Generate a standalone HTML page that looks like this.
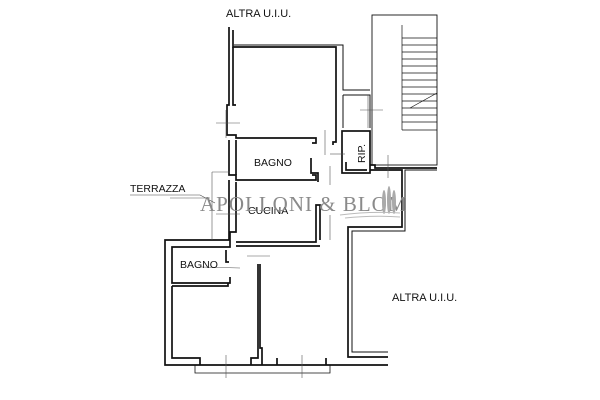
<!DOCTYPE html>
<html><head><meta charset="utf-8"><style>
html,body{margin:0;padding:0;background:#fff}
svg{display:block}
text{font-family:"Liberation Sans",sans-serif;fill:#111}
</style></head><body>
<svg width="600" height="400" viewBox="0 0 600 400" xmlns="http://www.w3.org/2000/svg">
<g fill="none" stroke="#111" stroke-width="1.7">
<!-- upper unit -->
<polyline points="229,27 229,105 227,105 227,135 236,135 236,138 316,138 316,143 312,143"/>
<polyline points="233,30 233,47 336,47 336,142 333,142 333,145"/>
<polyline points="233,47 233,105 236,105"/>
<polyline points="234,45 343,45 343,90 370,90" stroke-width="1"/>
<polyline points="343,95 370,95 370,128" stroke-width="1"/>
<polyline points="343,95 343,128" stroke-width="1"/>
<rect x="342" y="131" width="28" height="42"/>
<polyline points="346,162 346,170 367,170"/>
<polyline points="370,165 375,165 375,168 437,168"/>
<polyline points="370,170 402,170 402,227 348,227 348,357 388,357"/>
<polyline points="437,170 405,170 405,231 352,231 352,352 388,352" stroke-width="1"/>
<!-- stair -->
<rect x="372" y="15" width="65" height="150" stroke-width="0.9"/>
<g stroke-width="0.7">
<line x1="402" y1="25" x2="402" y2="130"/><line x1="402" y1="130" x2="437" y2="130"/>
<line x1="402" y1="38" x2="437" y2="38"/><line x1="402" y1="45" x2="437" y2="45"/>
<line x1="402" y1="52" x2="437" y2="52"/><line x1="402" y1="59" x2="437" y2="59"/>
<line x1="402" y1="66" x2="437" y2="66"/><line x1="402" y1="73" x2="437" y2="73"/>
<line x1="402" y1="80" x2="437" y2="80"/><line x1="402" y1="87" x2="437" y2="87"/>
<line x1="402" y1="94" x2="437" y2="94"/><line x1="402" y1="101" x2="437" y2="101"/>
<line x1="402" y1="108" x2="437" y2="108"/><line x1="402" y1="115" x2="437" y2="115"/>
<line x1="402" y1="122" x2="437" y2="122"/>
<line x1="410" y1="108" x2="437" y2="93"/>
</g>
<!-- bagno upper -->
<polyline points="229,140 229,175 236,175 236,180 316,180 316,175 312,175"/>
<polyline points="236,140 236,175"/>
<polyline points="311,158 311,173 318,173 318,182"/>
<!-- left walls to cucina -->
<polyline points="229,180 229,240 165,240 165,365 388,365"/>
<polyline points="236,182 236,232 230,232 230,247 172,247 172,283 230,283 230,277"/>
<polyline points="172,286 228,286 228,283"/>
<polyline points="172,286 172,358 200,358 200,365"/>
<polyline points="236,242 316,242 316,205 320,205 320,240"/>
<polyline points="236,246 320,246"/>
<polyline points="226,250 226,262 229,262"/>
<polyline points="258,264 258,358 251,358 251,365"/>
<polyline points="260,264 260,348 262,348 262,365"/>
<polyline points="277,358 277,365"/>
<polyline points="326,358 326,365"/>
<polyline points="195,365 195,373 330,373 330,365" stroke-width="0.8"/>
</g>
<!-- thin construction lines -->
<g stroke="#555" stroke-width="0.6" fill="none">
<line x1="216" y1="123" x2="240" y2="123"/><line x1="226" y1="110" x2="226" y2="138"/>
<line x1="360" y1="110" x2="383" y2="110"/><line x1="368" y1="95" x2="368" y2="128"/>
<line x1="325" y1="130" x2="325" y2="155"/><line x1="330" y1="154" x2="345" y2="154"/>
<line x1="388" y1="155" x2="388" y2="178"/><line x1="330" y1="166" x2="330" y2="185"/>
<line x1="212" y1="172" x2="212" y2="240"/><line x1="212" y1="172" x2="230" y2="172"/>
<line x1="216" y1="214" x2="240" y2="214"/>
<line x1="247" y1="256" x2="270" y2="256"/><line x1="330" y1="215" x2="330" y2="240"/>
<line x1="226" y1="355" x2="226" y2="378"/><line x1="302" y1="355" x2="302" y2="378"/>
<line x1="170" y1="198" x2="210" y2="198"/>
<line x1="200" y1="267" x2="240" y2="268"/>
</g>
<!-- labels -->
<text x="226" y="17" font-size="11">ALTRA U.I.U.</text>
<text x="254" y="166" font-size="10.5">BAGNO</text>
<text x="0" y="0" font-size="10.5" transform="translate(365,163) rotate(-90)">RIP.</text>
<text x="130" y="192" font-size="10.5">TERRAZZA</text>
<polyline points="130,195 200,195 215,203" fill="none" stroke="#444" stroke-width="0.6"/>
<text x="248" y="214" font-size="10.5">CUCINA</text>
<text x="180" y="268" font-size="10.5">BAGNO</text>
<text x="392" y="301" font-size="11">ALTRA U.I.U.</text>
<!-- watermark -->
<text x="200" y="211" font-size="21" style="fill:#8a8a8a;font-family:'Liberation Serif',serif;letter-spacing:1px">APOLLONI &amp; BLOM</text>
<g fill="#aaa"><ellipse cx="384" cy="202" rx="2" ry="12"/><ellipse cx="389" cy="200" rx="2" ry="14"/><ellipse cx="394" cy="202" rx="2" ry="12"/></g>
<g stroke="#bbb" stroke-width="1" fill="none"><path d="M340 215 Q370 211 400 213"/><path d="M345 218 Q372 215 400 217"/></g>
</svg>
</body></html>
